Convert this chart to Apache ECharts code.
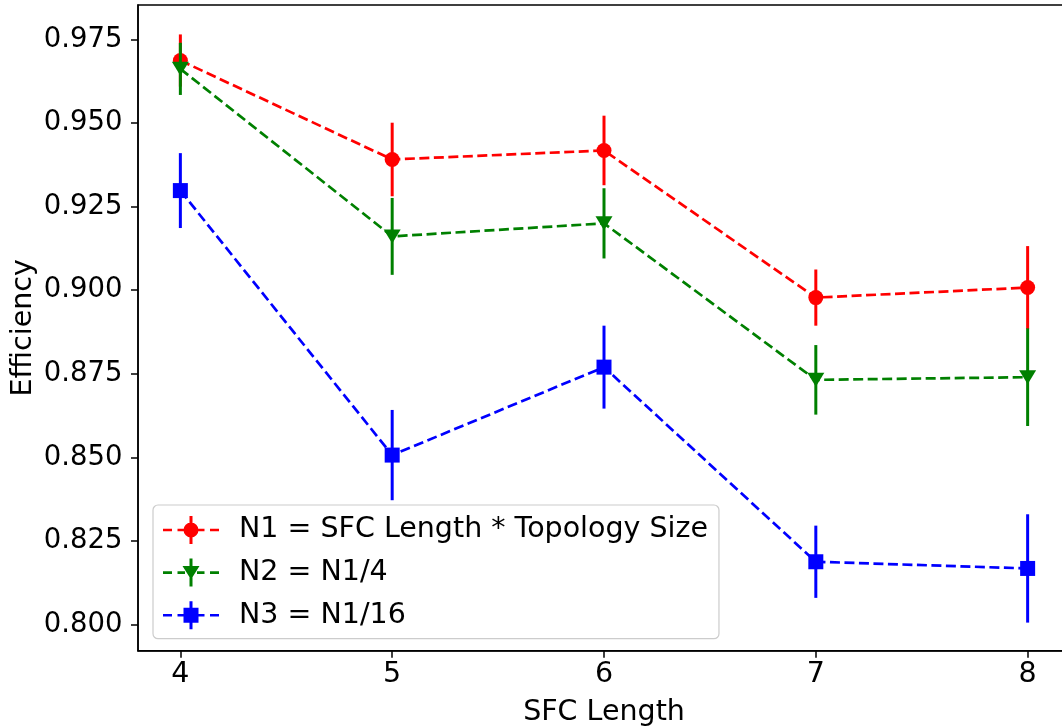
<!DOCTYPE html>
<html>
<head>
<meta charset="utf-8">
<script src="https://cdn.jsdelivr.net/npm/echarts@6/dist/echarts.min.js"></script>
<style>
html,body{margin:0;padding:0;background:#fff;overflow:hidden;}
#chart{width:1090px;height:727px;}
</style>
</head>
<body>
<div id="chart"></div>
<script>
// ---- data ----
const xValues = [4, 5, 6, 7, 8];
const n1Values = [0.9687, 0.9391, 0.9418, 0.8978, 0.9008];
const n1Errors = [0.0078, 0.0110, 0.0104, 0.0084, 0.0124];
const n2Values = [0.9662, 0.9161, 0.9200, 0.8732, 0.8740];
const n2Errors = [0.0078, 0.0115, 0.0105, 0.0104, 0.0146];
const n3Values = [0.9298, 0.8507, 0.8770, 0.8188, 0.8168];
const n3Errors = [0.0112, 0.0135, 0.0124, 0.0108, 0.0162];
const seriesNames = ['N1 = SFC Length * Topology Size', 'N2 = N1/4', 'N3 = N1/16'];
const xTicks = [4, 5, 6, 7, 8];
const yTicks = [0.800, 0.825, 0.850, 0.875, 0.900, 0.925, 0.950, 0.975];
const xTitle = 'SFC Length';
const yTitle = 'Efficiency';

const colors = ['#ff0000', '#008000', '#0000ff'];
const FONT = 'DejaVu Sans';
const FS = 28.5;

function pts(vals) { return xValues.map((x, i) => [x, vals[i]]); }
function errPts(vals, errs) { return xValues.map((x, i) => [x, vals[i], errs[i]]); }

function errorSeries(name, vals, errs, color, z) {
  return {
    type: 'custom',
    name: name + ' err',
    z: z,
    silent: true,
    data: errPts(vals, errs),
    encode: { x: 0, y: 1 },
    renderItem: function (params, api) {
      const x = api.value(0), y = api.value(1), e = api.value(2);
      const t = api.coord([x, y + e]);
      const b = api.coord([x, y - e]);
      return {
        type: 'line',
        shape: { x1: t[0], y1: t[1], x2: b[0], y2: b[1] },
        style: { stroke: color, lineWidth: 3 }
      };
    }
  };
}

function lineSeries(name, vals, color, symbol, size, rotate, z) {
  return {
    type: 'line',
    name: name,
    z: z,
    data: pts(vals),
    symbol: symbol,
    symbolSize: size,
    symbolRotate: rotate,
    showAllSymbol: true,
    itemStyle: { color: color, borderWidth: 0 },
    lineStyle: { color: color, width: 2.7, type: [10, 4.5] },
    emphasis: { disabled: true }
  };
}

// legend icons (56 x 28 box): dashes, vertical error bar, marker
const dashes = 'M0 12.7L9 12.7L9 15.3L0 15.3Z M14.5 12.7L22 12.7L22 15.3L14.5 15.3Z M34 12.7L41.5 12.7L41.5 15.3L34 15.3Z M47 12.7L56 12.7L56 15.3L47 15.3Z M26.5 0L29.5 0L29.5 28L26.5 28Z';
const iconCircle = 'path://' + dashes + ' M20.5 14A7.5 7.5 0 1 1 35.5 14A7.5 7.5 0 1 1 20.5 14Z';
const iconTri = 'path://' + dashes + ' M19.5 7.5L36.5 7.5L28 21Z';
const iconSquare = 'path://' + dashes + ' M20.5 6.5L35.5 6.5L35.5 21.5L20.5 21.5Z';

const chart = echarts.init(document.getElementById('chart'), null, { renderer: 'canvas' });
chart.setOption({
  animation: false,
  backgroundColor: '#ffffff',
  textStyle: { fontFamily: FONT },
  grid: {
    left: 138, top: 5, width: 932, height: 645.7,
    containLabel: false, outerBoundsMode: 'none',
    show: true, borderColor: '#000', borderWidth: 1.5, backgroundColor: 'transparent'
  },
  legend: {
    orient: 'vertical',
    left: 153, top: 505,
    padding: [10.5, 11, 9, 10],
    itemWidth: 56, itemHeight: 28, itemGap: 13.6,
    selectedMode: false,
    backgroundColor: 'rgba(255,255,255,0.8)',
    borderColor: '#cccccc', borderWidth: 1.2, borderRadius: 5,
    textStyle: { fontFamily: FONT, fontSize: FS, color: '#000', lineHeight: 28, padding: [0, 0, 0, 15] },
    data: [
      { name: seriesNames[0], icon: iconCircle, itemStyle: { color: colors[0] } },
      { name: seriesNames[1], icon: iconTri, itemStyle: { color: colors[1] } },
      { name: seriesNames[2], icon: iconSquare, itemStyle: { color: colors[2] } }
    ]
  },
  xAxis: {
    type: 'value', min: 3.8, max: 8.2,
    name: xTitle, nameLocation: 'middle', nameGap: 47,
    nameTextStyle: { fontFamily: FONT, fontSize: FS, color: '#000' },
    axisLine: { show: true, lineStyle: { color: '#000', width: 1.5 } },
    axisTick: { show: true, length: 7, inside: false, lineStyle: { color: '#000', width: 1.5 }, customValues: xTicks },
    axisLabel: { fontFamily: FONT, fontSize: FS, color: '#000', margin: 9, customValues: xTicks, formatter: v => String(v) },
    splitLine: { show: false }
  },
  yAxis: {
    type: 'value', min: 0.7922, max: 0.9853,
    name: yTitle, nameLocation: 'middle', nameGap: 100, nameRotate: 90, nameMoveOverlap: false,
    nameTextStyle: { fontFamily: FONT, fontSize: FS, color: '#000' },
    axisLine: { show: true, lineStyle: { color: '#000', width: 1.5 } },
    axisTick: { show: true, length: 7, inside: false, lineStyle: { color: '#000', width: 1.5 }, customValues: yTicks },
    axisLabel: { fontFamily: FONT, fontSize: 27.5, color: '#000', margin: 15.5, customValues: yTicks, formatter: v => v.toFixed(3) },
    splitLine: { show: false }
  },
  series: [
    lineSeries(seriesNames[0], n1Values, colors[0], 'circle', 15, 0, 2),
    errorSeries(seriesNames[0], n1Values, n1Errors, colors[0], 3),
    lineSeries(seriesNames[1], n2Values, colors[1], 'triangle', [17, 14], 180, 4),
    errorSeries(seriesNames[1], n2Values, n2Errors, colors[1], 5),
    lineSeries(seriesNames[2], n3Values, colors[2], 'rect', 15, 0, 6),
    errorSeries(seriesNames[2], n3Values, n3Errors, colors[2], 7)
  ]
});
</script>
</body>
</html>
